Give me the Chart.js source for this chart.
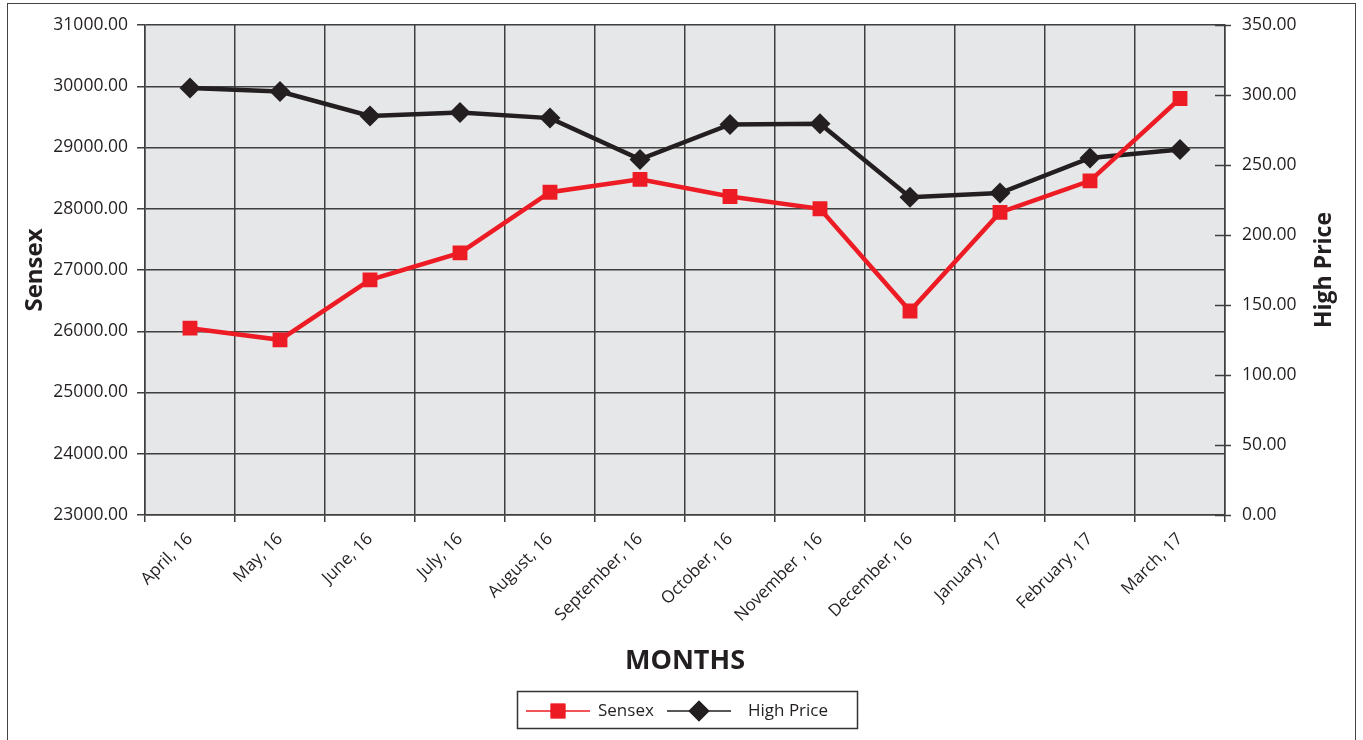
<!DOCTYPE html>
<html>
<head>
<meta charset="utf-8">
<title>Sensex vs High Price</title>
<script src="https://cdn.jsdelivr.net/npm/chart.js@4.4.1/dist/chart.umd.min.js"></script>
<style>
    body { margin: 0; background: #fff; }
    canvas { display: block; }
</style>
</head>
<body>
<canvas id="priceChart" width="1363" height="740"></canvas>
<script>
const months = ['April, 16', 'May, 16', 'June, 16', 'July, 16', 'August, 16', 'September, 16',
    'October, 16', 'November , 16', 'December, 16', 'January, 17', 'February, 17', 'March, 17'];
const sensex = [26050, 25860, 26840, 27280, 28270, 28480, 28200, 28000, 26330, 27940, 28455, 29800];
const highPrice = [305, 302.5, 285, 287.5, 283.5, 254, 279, 279.5, 227, 230, 255, 261];
const sensexTicks = { min: 23000, max: 31000, step: 1000 };
const highTicks = { min: 0, max: 350, step: 50 };

const textColor = '#231f20';
const gridColor = '#3f3f3f';
const fontFamily = "'Open Sans', 'Noto Sans', sans-serif";

// page background, outer frame and grey plot area
const backgroundPlugin = {
    id: 'background',
    beforeDraw(chart) {
        const ctx = chart.ctx;
        const area = chart.chartArea;
        ctx.save();
        ctx.fillStyle = '#fff';
        ctx.fillRect(0, 0, chart.width, chart.height);
        ctx.strokeStyle = '#444';
        ctx.lineWidth = 1;
        ctx.strokeRect(7.5, 3.5, 1348, 760);
        ctx.fillStyle = '#e6e7e9';
        ctx.fillRect(area.left, area.top, area.right - area.left, area.bottom - area.top);
        ctx.restore();
    }
};

// right axis cross ticks, right title and the boxed legend
const extrasPlugin = {
    id: 'extras',
    afterDraw(chart) {
        const ctx = chart.ctx;
        const area = chart.chartArea;
        const y1 = chart.scales.y1;
        ctx.save();

        ctx.strokeStyle = gridColor;
        ctx.lineWidth = 1.5;
        y1.ticks.forEach(t => {
            const y = Math.round(y1.getPixelForValue(t.value)) + 0.5;
            ctx.beginPath();
            ctx.moveTo(area.right - 10, y);
            ctx.lineTo(area.right + 6, y);
            ctx.stroke();
        });

        ctx.fillStyle = textColor;
        ctx.font = `bold 23px ${fontFamily}`;
        ctx.textAlign = 'center';
        ctx.textBaseline = 'middle';
        ctx.translate(1324, (area.top + area.bottom) / 2);
        ctx.rotate(-Math.PI / 2);
        ctx.fillText('High Price', 0, 0);
        ctx.setTransform(1, 0, 0, 1, 0, 0);

        // legend
        ctx.strokeStyle = '#333';
        ctx.lineWidth = 1.5;
        ctx.strokeRect(517.5, 691.5, 340, 37);
        const cy = 711;
        const items = [
            { x: 526, label: 'Sensex', color: '#ed1c24', style: 'rect', textX: 598 },
            { x: 667, label: 'High Price', color: '#231f20', style: 'rectRot', textX: 748 }
        ];
        ctx.font = `17px ${fontFamily}`;
        ctx.textAlign = 'left';
        items.forEach(it => {
            ctx.strokeStyle = it.color;
            ctx.lineWidth = 1.5;
            ctx.beginPath();
            ctx.moveTo(it.x, cy);
            ctx.lineTo(it.x + 64, cy);
            ctx.stroke();
            ctx.fillStyle = it.color;
            Chart.helpers.drawPoint(ctx, { pointStyle: it.style, radius: 10.5, borderWidth: 0 }, it.x + 32, cy);
            ctx.fill();
            ctx.fillStyle = textColor;
            ctx.fillText(it.label, it.textX, cy);
        });
        ctx.restore();
    }
};

function buildChart() {
    const ctx = document.getElementById('priceChart').getContext('2d');

    new Chart(ctx, {
        type: 'line',
        data: {
            labels: months,
            datasets: [
                {
                    label: 'Sensex',
                    data: sensex,
                    yAxisID: 'y',
                    borderColor: '#ed1c24',
                    backgroundColor: '#ed1c24',
                    borderWidth: 4.5,
                    pointStyle: 'rect',
                    pointRadius: 10.5,
                    pointBorderWidth: 0,
                    tension: 0
                },
                {
                    label: 'High Price',
                    data: highPrice,
                    yAxisID: 'y1',
                    borderColor: '#231f20',
                    backgroundColor: '#231f20',
                    borderWidth: 4.5,
                    pointStyle: 'rectRot',
                    pointRadius: 10.5,
                    pointBorderWidth: 0,
                    tension: 0
                }
            ]
        },
        options: {
            responsive: false,
            animation: false,
            layout: {
                padding: { top: 25, left: 0, right: 0, bottom: 0 }
            },
            scales: {
                x: {
                    offset: true,
                    grid: {
                        offset: true,
                        color: gridColor,
                        lineWidth: 1.5,
                        tickLength: 7
                    },
                    border: { color: gridColor, width: 1.5 },
                    ticks: {
                        color: textColor,
                        minRotation: 45,
                        maxRotation: 45,
                        padding: 7,
                        font: { family: fontFamily, size: 17 }
                    },
                    title: {
                        display: true,
                        text: 'MONTHS',
                        color: textColor,
                        font: { family: fontFamily, size: 27, weight: 'bold' },
                        padding: { top: 0, bottom: 62 }
                    },
                    afterFit: scale => { scale.height = 225; }
                },
                y: {
                    position: 'left',
                    min: sensexTicks.min,
                    max: sensexTicks.max,
                    grid: {
                        color: gridColor,
                        lineWidth: 1.5,
                        tickLength: 8
                    },
                    border: { color: gridColor, width: 1.5 },
                    ticks: {
                        stepSize: sensexTicks.step,
                        color: textColor,
                        padding: 9,
                        font: { family: fontFamily, size: 17.5 },
                        callback: v => v.toFixed(2)
                    },
                    title: {
                        display: true,
                        text: 'Sensex',
                        color: textColor,
                        font: { family: fontFamily, size: 24, weight: 'bold' },
                        padding: { top: 21, bottom: 0 }
                    },
                    afterFit: scale => { scale.width = 145; }
                },
                y1: {
                    position: 'right',
                    min: highTicks.min,
                    max: highTicks.max,
                    grid: { display: false, drawOnChartArea: false },
                    border: { color: gridColor, width: 1.5 },
                    ticks: {
                        stepSize: highTicks.step,
                        color: textColor,
                        padding: 9,
                        font: { family: fontFamily, size: 17.5 },
                        callback: v => v.toFixed(2)
                    },
                    afterFit: scale => { scale.width = 138; }
                }
            },
            plugins: {
                legend: { display: false },
                tooltip: { enabled: false }
            }
        },
        plugins: [backgroundPlugin, extrasPlugin]
    });
}

buildChart();
</script>
</body>
</html>
